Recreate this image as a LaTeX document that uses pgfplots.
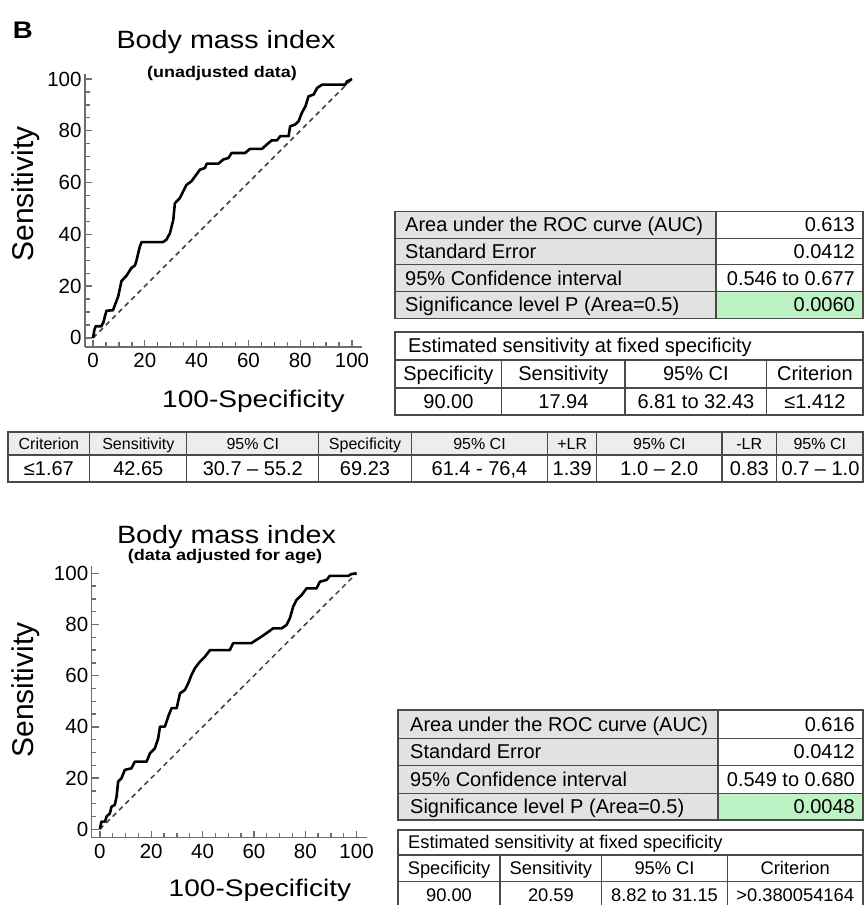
\documentclass[border=0pt]{standalone}
\usepackage{fontspec}
\setmainfont{Liberation Sans}
\usepackage{graphicx}
\usepackage{pgfplots}
\pgfplotsset{compat=1.18}

\definecolor{axgray}{HTML}{6E6E6E}
\definecolor{cellgray}{HTML}{E2E2E2}
\definecolor{headgray}{HTML}{EDEDED}
\definecolor{cellgreen}{HTML}{BDF2C4}
\definecolor{rulegray}{HTML}{4A4A4A}

\pgfplotsset{roc/.style={
  scale only axis, anchor=south west,
  axis x line*=bottom, axis y line*=left,
  axis line style={axgray, line width=1.4pt},
  xtick={0,20,...,100}, ytick={0,20,...,100},
  minor x tick num=3, minor y tick num=3,
  tick align=inside, major tick length=7pt, minor tick length=4.5pt,
  tick style={axgray, line width=1.3pt},
  tick label style={font=\fontsize{20.5}{24}\selectfont, black},
  xticklabel style={yshift=-3pt},
  /pgf/number format/assume math mode=true,
  clip=false,
}}

\newcommand{\tl}[3]{\node[anchor=base west,inner sep=0] at (#1,#2) {#3};}
\newcommand{\tr}[3]{\node[anchor=base east,inner sep=0] at (#1,#2) {#3};}
\newcommand{\tc}[3]{\node[anchor=base,inner sep=0] at (#1,#2) {#3};}

\begin{document}
\begin{tikzpicture}
\path[use as bounding box] (0pt,0pt) rectangle (864pt,905pt);

% top ROC (unadjusted)
\begin{axis}[roc, at={(85pt,558pt)}, width=277.4pt, height=273.2pt,
  xmin=-3.1, xmax=104, ymin=-3.5, ymax=102]
\addplot[darkgray, line width=1.5pt, dash pattern=on 5pt off 4pt] coordinates {(0,0)(100,100)};
\addplot[black, line width=2.6pt, line join=round] coordinates {
(0,0)(0.5,3)(1,4.5)(3.2,4.5)(4,6)(4.6,8.4)(5.2,10.5)(7.7,10.7)(9.7,16)(11,22)
(12.9,24)(14.8,27)(16.2,28)(16.8,30)(18,35)(18.7,37)(27,37)(28.4,38)(29.7,40.5)
(31,45.7)(31.6,52)(33.5,54)(34.8,56.6)(36,59)(38,60.5)(39.4,62.4)(41.3,65)
(43.2,65.6)(43.9,67.3)(48.4,67.3)(50.3,68.9)(52.3,69.5)(53.5,71.4)(58.7,71.4)
(60.6,73)(65.2,73)(67,74.6)(69,76.3)(71,76.3)(72.3,77.9)(75.5,77.9)(76.1,81.7)
(78,82.4)(79.4,83.7)(80.6,86.9)(82,89.4)(83.2,93.3)(85.2,94)(86.5,96.5)
(88.4,97.8)(97.4,97.8)(98,99)(99.4,99.7)(100,100)};
\end{axis}

% bottom ROC (adjusted for age)
\begin{axis}[roc, at={(91.7pt,67.3pt)}, width=274.9pt, height=272.1pt,
  xmin=-3.2, xmax=103.9, ymin=-3.3, ymax=103]
\addplot[darkgray, line width=1.5pt, dash pattern=on 5pt off 4pt] coordinates {(0,0)(100,100)};
\addplot[black, line width=2.6pt, line join=round] coordinates {
(0,0)(0.6,3)(2,3)(2.6,5)(3.9,6.2)(4.5,8.8)(5.8,9.5)(6.5,12.8)(7.1,18.6)(8.4,19.9)
(9.7,23.2)(12.3,23.8)(13.6,26.4)(18.2,26.4)(19.5,29.7)(21.4,31.6)(22.7,35.5)
(23.4,40.1)(25.3,40.1)(26.6,44)(27.9,47.3)(29.9,47.3)(31.2,53.1)(33.1,54.4)
(34.4,57)(35.7,60.3)(37,62.9)(39,65.5)(40.9,67.4)(42.9,70)(50.6,70)(51.9,72.7)
(59,72.7)(61,74)(63,75.3)(64.9,76.6)(67.5,78.5)(70.8,78.5)(72.7,79.8)(74,82.4)
(75.3,87)(76.6,89.6)(78.6,91.5)(80.5,94.1)(84.4,94.1)(85.7,96.7)(88.3,97.4)
(89.6,99)(96.8,99)(98,99.7)(100,100)};
\end{axis}

\begin{scope}[x=1pt, y=-1pt, yshift=905pt]
% plot titles and labels
\node[anchor=base west, inner sep=0, font=\fontsize{24}{28}\selectfont\bfseries] at (12.7,39) {\scalebox{1.15}[1]{B}};
\node[anchor=base, inner sep=0, font=\fontsize{25}{30}\selectfont] at (226,48.3) {\scalebox{1.15}[1]{Body mass index}};
\node[anchor=base, inner sep=0, font=\fontsize{15.5}{18}\selectfont\bfseries] at (222,77.3) {\scalebox{1.16}[1]{(unadjusted data)}};
\node[anchor=base, inner sep=0, font=\fontsize{24}{28}\selectfont] at (253.5,408) {\scalebox{1.17}[1]{100-Specificity}};
\node[anchor=base, inner sep=0, rotate=90, font=\fontsize{30}{34}\selectfont] at (33,194) {Sensitivity};

\node[anchor=base, inner sep=0, font=\fontsize{25}{30}\selectfont] at (226.5,543.3) {\scalebox{1.15}[1]{Body mass index}};
\node[anchor=base, inner sep=0, font=\fontsize{15.5}{18}\selectfont\bfseries] at (225,560.7) {\scalebox{1.17}[1]{(data adjusted for age)}};
\node[anchor=base, inner sep=0, font=\fontsize{24}{28}\selectfont] at (260,896.7) {\scalebox{1.17}[1]{100-Specificity}};
\node[anchor=base, inner sep=0, rotate=90, font=\fontsize{30}{34}\selectfont] at (33,690) {Sensitivity};

\begin{scope}[every node/.style={font=\fontsize{20}{24}\selectfont}]
% top AUC table
\fill[cellgray] (395,211.5) rectangle (716,318.3);
\fill[cellgreen] (716,291.6) rectangle (863,318.3);
\draw[rulegray, line width=1.2pt] (395,211.5) rectangle (863,318.3);
\draw[rulegray, line width=1.2pt] (716,211.5) -- (716,318.3);
\foreach \yy in {238.2,264.9,291.6} \draw[rulegray, line width=1.2pt] (395,\yy) -- (863,\yy);
\tl{405}{231.9}{Area under the ROC curve (AUC)}  \tr{855}{231.9}{0.613}
\tl{405}{258.6}{Standard Error}                  \tr{855}{258.6}{0.0412}
\tl{405}{285.3}{95\% Confidence interval}         \tr{855}{285.3}{0.546 to 0.677}
\tl{405}{312.0}{Significance level P (Area=0.5)} \tr{855}{312.0}{0.0060}

% top fixed specificity table
\draw[rulegray, line width=1.2pt] (395,332) rectangle (863,415);
\draw[rulegray, line width=1.2pt] (395,360) -- (863,360) (395,388) -- (863,388);
\foreach \xx in {501.7,625,766.7} \draw[rulegray, line width=1.2pt] (\xx,360) -- (\xx,415);
\tl{408}{353}{Estimated sensitivity at fixed specificity}
\tc{448.4}{381}{Specificity} \tc{563.4}{381}{Sensitivity} \tc{695.9}{381}{95\% CI} \tc{814.9}{381}{Criterion}
\tc{448.4}{408.5}{90.00} \tc{563.4}{408.5}{17.94} \tc{695.9}{408.5}{6.81 to 32.43} \tc{814.9}{408.5}{≤1.412}

% criterion table
\fill[headgray] (8,432) rectangle (863,455);
\draw[rulegray, line width=1.2pt] (8,432) rectangle (863,482);
\draw[rulegray, line width=1.2pt] (8,455) -- (863,455);
\foreach \xx in {89.8,186.8,318.7,411.4,547.6,596.7,722,776.5} \draw[rulegray, line width=1.2pt] (\xx,432) -- (\xx,482);
\begin{scope}[every node/.style={font=\fontsize{16}{19}\selectfont}]
\tc{48.9}{449.2}{Criterion} \tc{138.3}{449.2}{Sensitivity} \tc{252.8}{449.2}{95\% CI}
\tc{365}{449.2}{Specificity} \tc{479.5}{449.2}{95\% CI} \tc{572.2}{449.2}{+LR}
\tc{659.4}{449.2}{95\% CI} \tc{749.3}{449.2}{-LR} \tc{819.8}{449.2}{95\% CI}
\end{scope}
\tc{48.9}{475.6}{≤1.67} \tc{138.3}{475.6}{42.65} \tc{252.8}{475.6}{30.7 – 55.2}
\tc{365}{475.6}{69.23} \tc{479.5}{475.6}{61.4 - 76,4} \tc{572.2}{475.6}{1.39}
\tc{659.4}{475.6}{1.0 – 2.0} \tc{749.3}{475.6}{0.83} \tc{820.5}{475.6}{0.7 – 1.0}

% bottom AUC table
\fill[cellgray] (398,710) rectangle (718,820);
\fill[cellgreen] (718,793.3) rectangle (863,820);
\draw[rulegray, line width=1.2pt] (398,710) rectangle (863,820);
\draw[rulegray, line width=1.2pt] (718,710) -- (718,820);
\foreach \yy in {738.3,765.5,793.3} \draw[rulegray, line width=1.2pt] (398,\yy) -- (863,\yy);
\tl{410}{731.2}{Area under the ROC curve (AUC)}  \tr{855}{731.2}{0.616}
\tl{410}{758.9}{Standard Error}                  \tr{855}{758.9}{0.0412}
\tl{410}{786.4}{95\% Confidence interval}         \tr{855}{786.4}{0.549 to 0.680}
\tl{410}{813.7}{Significance level P (Area=0.5)} \tr{855}{813.7}{0.0048}
\end{scope}

% bottom fixed specificity table
\begin{scope}[every node/.style={font=\fontsize{18.3}{22}\selectfont}]
\draw[rulegray, line width=1.2pt] (398,830) rectangle (863,912);
\draw[rulegray, line width=1.2pt] (398,855) -- (863,855) (398,881.7) -- (863,881.7);
\foreach \xx in {500,601.7,727.3} \draw[rulegray, line width=1.2pt] (\xx,855) -- (\xx,912);
\tl{408}{849}{Estimated sensitivity at fixed specificity}
\tc{449}{874.8}{Specificity} \tc{550.9}{874.8}{Sensitivity} \tc{664.5}{874.8}{95\% CI} \tc{795.2}{874.8}{Criterion}
\tc{449}{901.3}{90.00} \tc{550.9}{901.3}{20.59} \tc{664.5}{901.3}{8.82 to 31.15} \tc{795.2}{901.3}{>0.380054164}
\end{scope}
\end{scope}
\end{tikzpicture}
\end{document}
